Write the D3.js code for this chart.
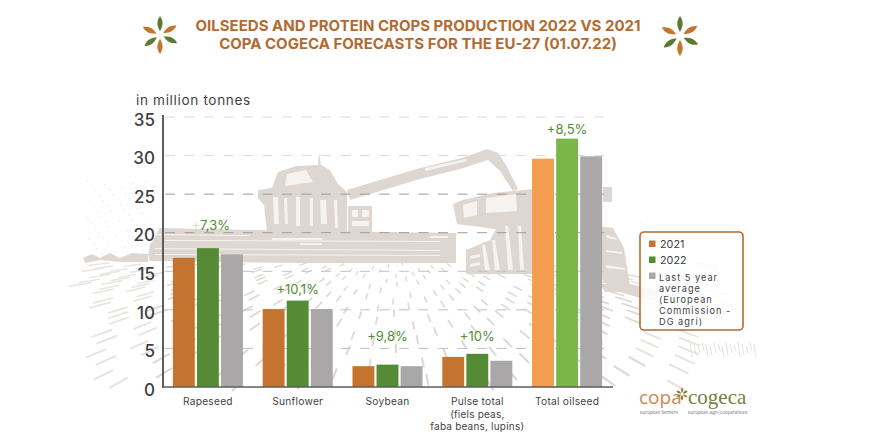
<!DOCTYPE html>
<html><head><meta charset="utf-8">
<script src="https://cdn.jsdelivr.net/npm/d3@7"></script>
<style>html,body{margin:0;padding:0;background:#fff}svg{display:block}</style>
</head><body><svg id="c" width="888" height="440" font-family="Inter"></svg>
<script>
const categories = ["Rapeseed","Sunflower","Soybean","Pulse total","Total oilseed"];
const categoryNotes = [[],[],[],["(fiels peas,","faba beans, lupins)"],[]];
const seriesNames = ["2021","2022","Last 5 year average"];
const values2021 = [16.75,10.1,2.7,3.9,29.6];
const values2022 = [18.0,11.2,2.9,4.3,32.2];
const valuesAvg  = [17.2,10.1,2.7,3.4,29.9];
const changeLabels = ["+7,3%","+10,1%","+9,8%","+10%","+8,5%"];
const changeLabelLevels = [20.3,12.1,5.9,5.9,32.8];
const yTicks = [0,5,10,15,20,25,30,35];
const legendLines = ["Last 5 year","average","(European","Commission -","DG agri)"];
const titleLines = ["OILSEEDS AND PROTEIN CROPS PRODUCTION 2022 VS 2021","COPA COGECA FORECASTS FOR THE EU-27 (01.07.22)"];

const svg = d3.select("#c");
const ink="#3f3f3f", brown="#b26a30", orange="#c4742f", green="#558b35", grey="#a9a7a8", lightO="#f49d50", lightG="#7ab648", olive="#5d7a33";

// ---- decorative field background (engraved furrows running to a vanishing point)
const bg = svg.append("g");
const vp={x:395,y:228};
d3.range(0,15).forEach(row=>{
  const base=266+row*5.2+row*row*.2;
  const len=2.4+row*.5;
  d3.range(-11,11,.2).forEach((k,i)=>{
    if((i+row)%2) return;
    const yy=base+(i*13+row*5)%7-3;
    const off=(i*7+row*3)%5-2;
    const a=vp.x+k*(yy-vp.y)+off, b=vp.x+k*(yy+len-vp.y)+off;
    if(a<86||a>705||yy>385||yy<263) return;
    const edge=Math.abs(a-395)>235;
    bg.append("line").attr("x1",a).attr("y1",yy).attr("x2",b).attr("y2",yy+len)
      .attr("stroke",edge?"#e9e4e0":"#dfd8d3").attr("stroke-width",1.3+row*.07).attr("stroke-linecap","round");
  });
});
// speckle on the far field
d3.range(0,60).forEach(i=>{
  const x=86+(i*37)%72, yy=180+(i*29)%74;
  bg.append("line").attr("x1",x).attr("y1",yy).attr("x2",x+1.5).attr("y2",yy+1.5).attr("stroke","#ece8e4").attr("stroke-width",1);
});
d3.range(0,24).forEach(i=>{
  const x=640+(i*43)%110, yy=222+(i*31)%100;
  bg.append("line").attr("x1",x).attr("y1",yy).attr("x2",x+1.5).attr("y2",yy+1.5).attr("stroke","#eeeae7").attr("stroke-width",1);
});
// ---- decorative harvester silhouette
const machine = svg.append("g").attr("fill","#ded7d1");
[
 "M258,190 L272,188 L278,172 L296,166 L318,165 L319,152 L321,165 L330,170 L338,184 L347,192 L347,232 L267,232 L264,205 L258,198Z",
 "M347,190 L420,168 L462,158 L487,149 L498,153 L506,165 L518,189 L513,191 L500,171 L488,160 L460,169 L420,179 L350,200Z",
 "M348,206 L372,206 L372,232 L348,232Z",
 "M148,254 L150,245 L160,228 L250,230 L456,233 L456,263 L300,263 L150,261Z",
 "M453,204 L463,200 L493,193 L534,189 L534,234 L457,224Z",
 "M466,250 L490,240 L500,222 L534,222 L534,274 L466,274Z",
 "M603,187 L612,187 L612,202 L603,202Z",
 "M598,226 L613,228 L624,248 L630,285 L612,287 L604,282 L597,270Z",
 "M600,284 L630,284 L655,290 L660,300 L640,298 L620,292 L605,292Z",
 "M83,258 L92,254 L100,258 L110,253 L120,258 L132,253 L148,254 L148,262 L120,262 L100,260 L85,263Z"
].forEach(d=>machine.append("path").attr("d",d));
// pale cut-outs giving the machine its engraved look
const cuts = svg.append("g").attr("fill","#f5f2f0");
[
 "M287,174 L306,170 L313,182 L285,186Z","M273,197 L278,197 L279,224 L274,224Z","M284,198 L287,198 L288,224 L285,224Z","M296,197 L300,197 L300,226 L296,226Z",
 "M310,198 L313,198 L313,226 L310,226Z","M320,200 L326,200 L327,224 L321,224Z","M334,200 L337,200 L338,228 L335,228Z",
 "M352,210 L358,210 L358,217 L352,217Z","M362,210 L369,210 L369,217 L362,217Z","M352,221 L369,221 L369,226 L352,226Z",
 "M152,234 L250,235 L250,236 L152,235Z","M165,240 L440,241 L440,242 L165,241Z","M272,238 L322,238 L322,240 L272,240Z","M300,243 L322,243 L322,245 L300,245Z",
 "M155,248 L440,250 L440,251 L155,249Z","M155,254 L440,255 L440,256 L155,255Z","M430,236 L448,236 L448,238 L430,238Z","M425,168 L466,159 L467,161 L426,171Z",
 "M486,198 L516,194 L517,211 L486,213Z","M463,205 L477,201 L477,215 L464,218Z","M505,226 L508,226 L513,270 L508,270Z","M482,245 L485,245 L490,270 L485,270Z",
 "M492,240 L495,240 L500,270 L495,270Z","M518,226 L521,226 L524,270 L520,270Z","M470,256 L480,254 L480,257 L470,259Z","M470,264 L480,262 L480,265 L470,267Z",
 "M606,235 L616,238 L617,240 L607,238Z","M606,250 L622,252 L622,254 L606,252Z","M606,265 L625,268 L625,270 L606,268Z"
].forEach(d=>cuts.append("path").attr("d",d));
// right-hand grass
d3.range(690,758,4).forEach((x,i)=>svg.append("line").attr("x1",x).attr("x2",x+2).attr("y1",342+(i%3)*2).attr("y2",357-(i%4)*2).attr("stroke","#e8e3df").attr("stroke-width",1.1));

// ---- chart
const y=d3.scaleLinear().domain([0,35]).range([387,117]);
const x0=d3.scaleBand().domain(categories).range([163,612]).paddingInner(.22).paddingOuter(.11);
const x1=d3.scaleBand().domain(seriesNames).range([0,x0.bandwidth()]).paddingInner(.09);

svg.append("g").selectAll("line").data(yTicks.slice(1)).join("line")
 .attr("x1",165).attr("x2",612).attr("y1",d=>y(d)).attr("y2",d=>y(d))
 .attr("stroke",d=>d>=30?"#dcdad8":(d>=20?"#a09b97":"#c4c0bc")).attr("stroke-width",1).attr("stroke-dasharray","10 9.5");

const allSeries=[values2021,values2022,valuesAvg];
const colors=[orange,green,grey], colorsTotal=[lightO,lightG,grey];
const groups=svg.append("g").selectAll("g").data(categories).join("g").attr("transform",d=>`translate(${x0(d)},0)`);
groups.selectAll("rect").data((c,i)=>seriesNames.map((s,k)=>({s,k,i,v:allSeries[k][i]}))).join("rect")
 .attr("x",d=>x1(d.s)).attr("width",x1.bandwidth()).attr("y",d=>y(d.v)).attr("height",d=>y(0)-y(d.v))
 .attr("fill",d=>d.i===4?colorsTotal[d.k]:colors[d.k]);

const axisY=svg.append("g").attr("transform","translate(163,0)").call(d3.axisLeft(y).tickValues(yTicks).tickSize(0).tickPadding(8));
axisY.select(".domain").remove();
axisY.selectAll("text").attr("font-size",17).attr("font-weight",500).attr("fill",ink).attr("font-family","Inter").attr("dy","0.48em");
svg.append("line").attr("x1",163).attr("x2",163).attr("y1",115).attr("y2",388).attr("stroke","#5c5c5c").attr("stroke-width",2);
const axisX=svg.append("g").attr("transform","translate(0,387)").call(d3.axisBottom(x0).tickSize(0).tickPadding(8));
axisX.select(".domain").remove();
axisX.selectAll("text").attr("font-size",10.2).attr("letter-spacing",.25).attr("fill",ink).attr("font-family","Inter").attr("dy","1em");
svg.append("line").attr("x1",162).attr("x2",613).attr("y1",387).attr("y2",387).attr("stroke","#5c5c5c").attr("stroke-width",1.6);

categories.forEach((c,i)=>categoryNotes[i].forEach((t,j)=>svg.append("text").attr("x",x0(c)+x0.bandwidth()/2).attr("y",418+j*12)
  .attr("text-anchor","middle").attr("font-size",10).attr("letter-spacing",.2).attr("fill",ink).text(t)));

const lbl=svg.append("g").selectAll("text").data(categories).join("text")
 .attr("x",d=>x0(d)+x0.bandwidth()/2+(d==="Rapeseed"?3:0)).attr("y",(d,i)=>y(changeLabelLevels[i]))
 .attr("text-anchor","middle").attr("font-size",13).attr("fill",green);
lbl.append("tspan").attr("fill",(d,i)=>i===0?"#d5e3c8":green).text((d,i)=>changeLabels[i][0]);
lbl.append("tspan").text((d,i)=>changeLabels[i].slice(1));

svg.append("text").attr("x",136).attr("y",105).attr("font-size",13.6).attr("letter-spacing",.65).attr("fill",ink).text("in million tonnes");

// title
svg.append("g").selectAll("text").data(titleLines).join("text").attr("x",418).attr("y",(d,i)=>31+i*18)
 .attr("text-anchor","middle").attr("font-size",15).attr("font-weight",700).attr("fill",brown).text(d=>d);

// flowers
function flower(cx,cy,s){
  const g=svg.append("g").attr("transform",`translate(${cx},${cy}) scale(${s})`);
  [0,60,115,180,235,295].forEach((a,i)=>{
    g.append("path").attr("d","M0,-4 C-2,-8 -5,-13 0,-20 C5,-13 2,-8 0,-4Z").attr("fill",i%2?orange:olive).attr("transform",`rotate(${a})`);
  });
}
flower(160,35,.95); flower(680,36,1);

// legend
const lg=svg.append("g");
lg.append("rect").attr("x",640).attr("y",232).attr("width",103).attr("height",98).attr("rx",4).attr("fill","#fff").attr("fill-opacity",.85).attr("stroke",brown).attr("stroke-width",1.6);
[[orange,244],[green,260],[grey,276]].forEach(([c,yy])=>lg.append("rect").attr("x",649).attr("y",yy-3.5).attr("width",6.5).attr("height",6.5).attr("fill",c));
lg.append("text").attr("x",660).attr("y",248).attr("font-size",10.8).attr("fill",ink).text(seriesNames[0]);
lg.append("text").attr("x",660).attr("y",264).attr("font-size",10.8).attr("fill",ink).text(seriesNames[1]);
const lt=lg.append("text").attr("font-size",9.2).attr("letter-spacing",1).attr("fill",ink);
legendLines.forEach((t,i)=>lt.append("tspan").attr("x",659).attr("y",280.5+i*11.2).text(t));

// logo
svg.append("text").attr("x",639).attr("y",404).attr("font-size",19).attr("fill","#c98a52").attr("font-family","Open Sans").text("copa");
svg.append("text").attr("x",688).attr("y",404).attr("font-size",21).attr("fill","#77803f").attr("font-family","Liberation Serif").text("cogeca");
svg.append("text").attr("x",640).attr("y",414).attr("font-size",4.5).attr("fill","#777").text("european farmers");
svg.append("text").attr("x",688).attr("y",414).attr("font-size",4.5).attr("fill","#777").text("european agri-cooperatives");
(function(){const g=svg.append("g").attr("transform","translate(682,394) scale(.32)");
 [0,60,120,180,240,300].forEach((a,i)=>g.append("path").attr("d","M0,-3 C-5,-9 -4,-16 0,-20 C4,-16 5,-9 0,-3Z").attr("fill",i%2?olive:orange).attr("transform",`rotate(${a})`));})();
</script></body></html>
